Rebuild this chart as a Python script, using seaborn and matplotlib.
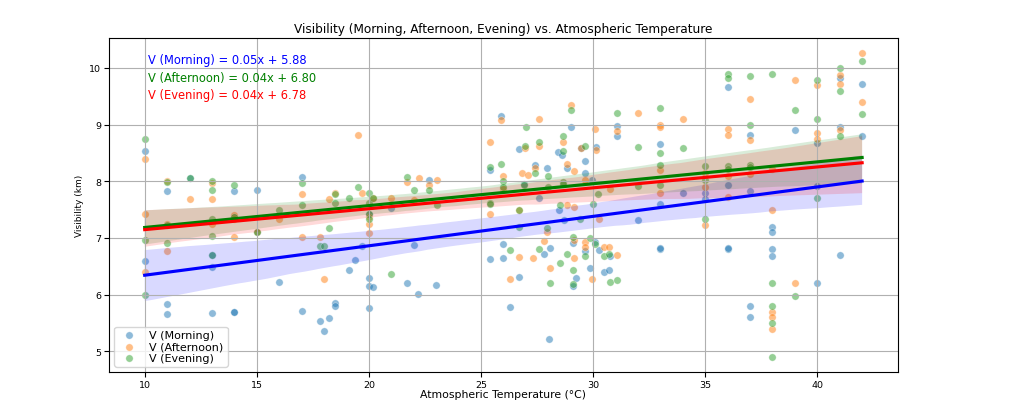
import numpy as np
import pandas as pd
import matplotlib
matplotlib.use("Agg")
import matplotlib.pyplot as plt
import seaborn as sns

# Morning visibility (km) against temperature (°C)
morning_temp = [10, 10, 11, 11, 11, 12, 13, 13, 13, 14, 14, 14, 14, 15, 15, 16, 17, 17, 17.8, 18.0,
                18.2, 18.5, 18.5, 19.1, 19.4, 19.7, 20, 20, 20, 20, 20.2, 21, 21.7, 22, 22.2, 22.7,
                23, 25.4, 25.4, 25.9, 26.0, 26.0, 26.3, 26.7, 26.7, 26.9, 27.4, 27.6, 27.8, 27.95,
                28.1, 28.05, 28.45, 28.6, 28.85, 28.5, 28.7, 29.0, 29.1, 29.1, 29.25, 29.45,
                29.66, 29.66, 29.66, 29.84, 29.95, 30.07, 30.15, 30.27, 30.5, 30.7, 30.75,
                31.05, 31.05, 32, 33, 33, 33, 33, 34, 35, 35, 36, 36, 36, 36, 37, 37, 37, 37,
                38, 38, 38, 38, 39, 40, 40, 40, 41, 41, 41, 42, 42]
morning_vis = [8.54, 6.60, 7.82, 5.84, 5.66, 8.05, 6.69, 6.49, 5.67, 7.82, 7.37, 5.69, 5.70, 7.85,
               7.11, 6.23, 8.07, 5.71, 5.53, 5.35, 5.58, 5.85, 5.80, 6.44, 6.61, 6.85, 7.43, 6.30,
               6.15, 5.77, 6.13, 7.53, 6.21, 6.87, 6.01, 8.02, 6.17, 8.19, 6.62, 9.16, 6.90, 6.65,
               5.78, 8.56, 6.31, 7.95, 8.28, 7.71, 6.71, 8.24, 6.83, 5.21, 8.52, 8.46, 8.23, 7.49,
               7.31, 8.96, 6.91, 6.15, 6.30, 8.58, 8.35, 8.14, 6.77, 6.46, 8.02, 6.92, 8.61, 6.78,
               6.40, 6.44, 6.68, 8.98, 8.79, 7.32, 8.65, 7.60, 6.81, 6.82, 7.80, 7.80, 7.68, 9.66,
               7.94, 6.81, 6.82, 8.81, 7.83, 5.80, 5.60, 7.20, 7.10, 6.80, 6.68, 8.90, 8.67, 7.92,
               6.20, 9.82, 8.96, 6.70, 9.72, 8.80]

# Afternoon
afternoon_temp = [10, 10, 10, 11, 11, 11, 12, 13, 13, 13, 14, 14, 14, 15, 16, 17, 17, 17.8, 18.0,
                  18.2, 18.5, 19.5, 19.7, 20, 20, 20, 20.2, 21, 21.7, 22, 22.25, 22.7, 23.05,
                  25.4, 25.4, 25.9, 26.0, 26.0, 26.3, 26.7, 26.7, 26.85, 26.96, 27.1, 27.33,
                  27.4, 27.57, 27.6, 27.8, 27.95, 28.1, 28.64, 28.85, 28.85, 29.0, 29.15, 29.15,
                  29.15, 29.15, 29.45, 29.66, 29.66, 29.66, 29.95, 30.1, 30.15, 30.27, 30.5,
                  30.7, 30.76, 31.06, 31.06, 32, 33, 33, 33, 33, 34, 35, 35, 35, 36, 36, 36, 36,
                  37, 37, 37, 38, 38, 38, 38, 38, 39, 39, 40, 40, 40, 41, 41, 41, 42, 42]
afternoon_vis = [8.39, 7.42, 6.40, 8.00, 7.25, 6.77, 7.69, 7.96, 7.68, 7.24, 7.41, 7.33, 7.02,
                 7.11, 7.34, 7.77, 7.02, 7.02, 6.28, 7.69, 7.80, 8.81, 7.80, 7.37, 7.25, 7.08,
                 7.71, 7.71, 7.98, 7.66, 8.05, 7.93, 8.02, 8.69, 7.43, 9.08, 8.09, 7.86, 6.27,
                 7.50, 6.67, 8.15, 8.58, 8.11, 6.64, 8.24, 8.62, 9.09, 6.94, 7.11, 6.47, 8.69,
                 8.30, 7.58, 9.34, 8.18, 7.54, 6.96, 6.65, 8.58, 8.02, 6.93, 6.84, 6.28, 8.92,
                 8.55, 7.34, 6.84, 6.84, 7.87, 8.89, 6.69, 9.21, 9.00, 8.95, 8.19, 7.80, 9.09,
                 8.14, 7.89, 7.22, 8.93, 8.81, 8.10, 7.73, 9.46, 8.72, 8.12, 8.21, 7.49, 5.70,
                 5.60, 5.40, 9.79, 6.20, 9.70, 8.85, 8.74, 9.87, 9.71, 8.90, 10.26, 9.40]

# Evening
evening_temp = [10, 10, 10, 11, 11, 11, 12, 13, 13, 13, 13, 13, 14, 14, 15, 16, 17, 17, 17.8,
                18.0, 18.2, 18.5, 18.5, 19.1, 19.5, 20, 20, 20, 20, 20.2, 21, 21.7, 22, 22.7,
                23.05, 25.4, 25.4, 25.4, 25.9, 26.0, 26.0, 26.3, 26.7, 26.7, 26.96, 27.0, 27.4,
                26.9, 27.57, 27.57, 27.95, 28.0, 28.0, 28.1, 28.52, 28.52, 28.64, 28.64, 28.64,
                28.64, 28.85, 29.0, 29.1, 29.1, 29.1, 29.4, 29.66, 29.66, 29.84, 30.0, 30.07,
                30.2, 30.5, 30.7, 30.75, 31.05, 31.05, 32, 32, 33, 33, 33, 33, 34, 35, 35, 35,
                36, 36, 36, 36, 37, 37, 37, 37, 38, 38, 38, 38, 38, 39, 39, 40, 40, 40, 41, 41,
                41, 42, 42]
evening_vis = [8.75, 6.96, 6.00, 7.98, 7.23, 6.91, 8.05, 8.00, 7.84, 7.33, 7.03, 6.69,
               7.94, 7.37, 7.11, 7.50, 7.96, 7.58, 6.85, 6.85, 7.18, 7.77, 7.62, 7.71, 7.90,
               7.79, 7.62, 7.43, 7.33, 7.71, 6.37, 8.08, 7.85, 7.84, 7.58, 8.25, 7.61, 7.60,
               8.31, 8.00, 7.89, 6.78, 7.50, 7.20, 8.63, 8.96, 8.14, 7.93, 8.69, 6.80, 7.17,
               8.10, 7.89, 6.21, 6.56, 7.58, 8.80, 8.54, 7.99, 7.95, 6.71, 9.25, 7.02, 6.44,
               6.18, 7.33, 8.62, 6.68, 6.99, 7.60, 6.89, 7.77, 6.68, 6.72, 6.23, 9.20, 6.25,
               8.61, 7.91, 9.30, 8.50, 8.29, 7.94, 8.59, 8.26, 8.02, 7.34, 9.90, 9.82, 8.26,
               8.22, 9.86, 9.00, 8.29, 8.25, 9.89, 6.20, 5.80, 5.50, 4.90, 9.25, 5.97, 9.79,
               9.09, 7.71, 10.00, 9.60, 8.79, 10.12, 9.19]

equations = ["V (Morning) = 0.05x + 5.88",
             "V (Afternoon) = 0.04x + 6.80",
             "V (Evening) = 0.04x + 6.78"]

morning = pd.DataFrame({"temp": morning_temp, "vis": morning_vis})
afternoon = pd.DataFrame({"temp": afternoon_temp, "vis": afternoon_vis})
evening = pd.DataFrame({"temp": evening_temp, "vis": evening_vis})

fig, ax = plt.subplots(figsize=(10.17, 4.02), dpi=100)
plt.subplots_adjust(left=0.107, right=0.883, bottom=0.072, top=0.903)

pal = sns.color_palette("tab10")
sns.scatterplot(ax=ax, data=morning, x="temp", y="vis", color=pal[0], alpha=0.5, s=28,
                label="V (Morning)")
sns.scatterplot(ax=ax, data=afternoon, x="temp", y="vis", color=pal[1], alpha=0.5, s=28,
                label="V (Afternoon)")
sns.scatterplot(ax=ax, data=evening, x="temp", y="vis", color=pal[2], alpha=0.5, s=28,
                label="V (Evening)")

sns.regplot(ax=ax, data=morning, x="temp", y="vis", scatter=False, color="blue")
sns.regplot(ax=ax, data=afternoon, x="temp", y="vis", scatter=False, color="green")
sns.regplot(ax=ax, data=evening, x="temp", y="vis", scatter=False, color="red")

for i, (txt, c) in enumerate(zip(equations, ["blue", "green", "red"])):
    ax.text(0.05, 0.955 - i * 0.053, txt, color=c, fontsize=8.3, transform=ax.transAxes,
            va="top")

ax.set_title("Visibility (Morning, Afternoon, Evening) vs. Atmospheric Temperature",
             fontsize=8.7, pad=4)
ax.set_xlabel("Atmospheric Temperature (°C)", fontsize=7.8, labelpad=0)
ax.set_ylabel("Visibility (km)", fontsize=6.5)
ax.tick_params(labelsize=6.8, pad=2)
ax.grid(True)
ax.legend(loc="lower left", fontsize=8, labelspacing=0.1, borderpad=0.35)

plt.savefig("out.png", dpi=100)
